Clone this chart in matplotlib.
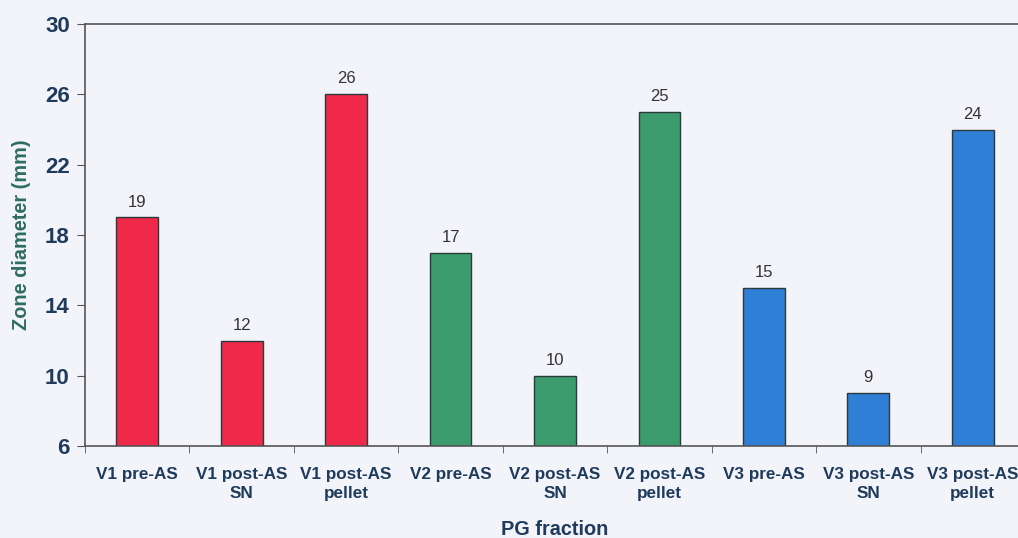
import matplotlib
matplotlib.use("Agg")
import matplotlib.pyplot as plt
import numpy as np

plt.rcParams["font.family"] = ["Liberation Sans", "DejaVu Sans"]

categories = [
    "V1 pre-AS", "V1 post-AS\nSN", "V1 post-AS\npellet",
    "V2 pre-AS", "V2 post-AS\nSN", "V2 post-AS\npellet",
    "V3 pre-AS", "V3 post-AS\nSN", "V3 post-AS\npellet",
]
values = [19, 12, 26, 17, 10, 25, 15, 9, 24]
bar_colors = ["#F0284A"] * 3 + ["#3C9B6C"] * 3 + ["#2F7FD6"] * 3
y_ticks = [6, 10, 14, 18, 22, 26, 30]

bg = "#F3F3FA"
fig = plt.figure(figsize=(10.18, 5.38), dpi=100, facecolor=bg)
ax = fig.add_axes([85 / 1018, 1 - 446 / 538, 940 / 1018, 422 / 538])
ax.set_facecolor(bg)

x = np.arange(len(values))
ax.bar(x, values, width=0.4, bottom=0, color=bar_colors,
       edgecolor="#2b3b3b", linewidth=1.0, zorder=2)
for xi, v in zip(x, values):
    ax.text(xi, v + 0.45, str(v), ha="center", va="bottom",
            fontsize=12, color="#333333")

ax.set_ylim(6, 30)
ax.set_xlim(-0.5, len(values) - 0.5)
ax.set_yticks(y_ticks)
ax.set_yticklabels([str(t) for t in y_ticks], fontsize=16,
                   fontweight="bold", color="#1F3B5B")
ax.set_xticks(x)
ax.set_xticklabels(categories, fontsize=12.3, fontweight="bold",
                   color="#1F3B5B", linespacing=1.35)
ax.tick_params(axis="x", length=0, pad=15)
ax.set_xticks(np.arange(len(values) + 1) - 0.5, minor=True)
ax.tick_params(axis="x", which="minor", length=5, color="#555555")
ax.tick_params(axis="y", length=6, color="#555555", pad=5)

for side in ["left", "top", "bottom"]:
    ax.spines[side].set_color("#555555")
    ax.spines[side].set_linewidth(1.2)
ax.spines["right"].set_visible(False)

ax.set_ylabel("Zone diameter (mm)", fontsize=14.3, fontweight="bold",
              color="#2E6E5C", labelpad=10)
ax.set_xlabel("PG fraction", fontsize=14.3, fontweight="bold",
              color="#1F3B5B", labelpad=14)

fig.savefig("out.png", dpi=100, facecolor=bg)
